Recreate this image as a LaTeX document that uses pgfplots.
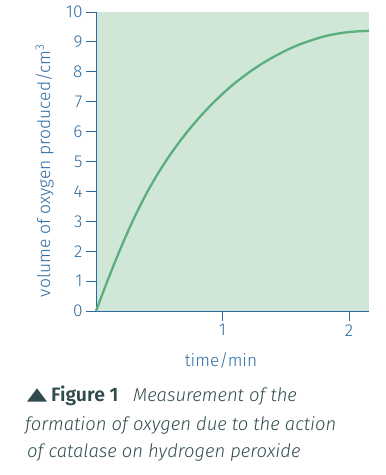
\documentclass[border=0pt]{standalone}
\usepackage{fontspec}
\IfFontExistsTF{Fira Sans Light}{%
  \setmainfont{Fira Sans Light}[BoldFont={Fira Sans SemiBold},ItalicFont={Fira Sans Light Italic}]%
}{%
  \setmainfont{Fira Sans}%
}
\usepackage{pgfplots}
\pgfplotsset{compat=1.18}
\definecolor{axblue}{HTML}{2B6AA2}
\definecolor{bggreen}{HTML}{D0E6D7}
\definecolor{curvegreen}{HTML}{5DAE7D}
\definecolor{captxt}{HTML}{2F4B4D}
\pgfplotstableread{
x y
0 0
0.1 1.11
0.2 2.15
0.3 3.10
0.4 3.94
0.5 4.67
0.6 5.31
0.7 5.88
0.8 6.39
0.9 6.85
1.0 7.26
1.1 7.63
1.2 7.95
1.3 8.24
1.4 8.49
1.5 8.71
1.6 8.90
1.7 9.05
1.8 9.18
1.9 9.27
2.0 9.33
2.1 9.36
2.158 9.37
}\datatable
\begin{document}
\begin{tikzpicture}[x=1bp,y=1bp]
\path[use as bounding box] (0,0) rectangle (385,-475);
\begin{axis}[
  at={(96bp,-311bp)}, anchor=south west,
  scale only axis, width=273bp, height=299bp,
  xmin=0, xmax=2.158, ymin=0, ymax=10,
  axis lines=left, axis line style={-, axblue, line width=0.9bp},
  axis background/.style={fill=bggreen},
  xtick={1,2}, ytick={0,1,...,10},
  tick align=outside, major tick length=10bp,
  tick style={axblue, line width=0.9bp},
  ticklabel style={font=\fontsize{17.3}{20}\selectfont, text=axblue},
  /pgf/number format/assume math mode=true,
  clip=false,
]
\addplot[curvegreen, line width=2.3bp, smooth, tension=0.5] table[x=x,y=y] {\datatable};
\end{axis}
\node[anchor=base, text=axblue, font=\fontsize{17.3}{20}\selectfont] at (221,-366) {time/min};
\node[anchor=base, rotate=90, text=axblue, font=\fontsize{17.5}{20}\selectfont] at (50,-170.5) {volume of oxygen produced/cm\textsuperscript{3}};
\fill[captxt] (27,-401.7) -- (47,-401.7) -- (37,-388.4) -- cycle;
\node[anchor=base west, inner sep=0, text=captxt, font=\fontsize{19.5}{22}\selectfont] at (51,-401.7) {\textbf{Figure 1}};
\node[anchor=base west, inner sep=0, text=captxt, font=\fontsize{18.5}{22}\selectfont] at (133,-401.7) {\textit{Measurement of the}};
\node[anchor=base west, inner sep=0, text=captxt, font=\fontsize{18.5}{22}\selectfont] at (25,-430) {\textit{formation of oxygen due to the action}};
\node[anchor=base west, inner sep=0, text=captxt, font=\fontsize{18.5}{22}\selectfont] at (27,-457) {\textit{of catalase on hydrogen peroxide}};
\end{tikzpicture}
\end{document}
